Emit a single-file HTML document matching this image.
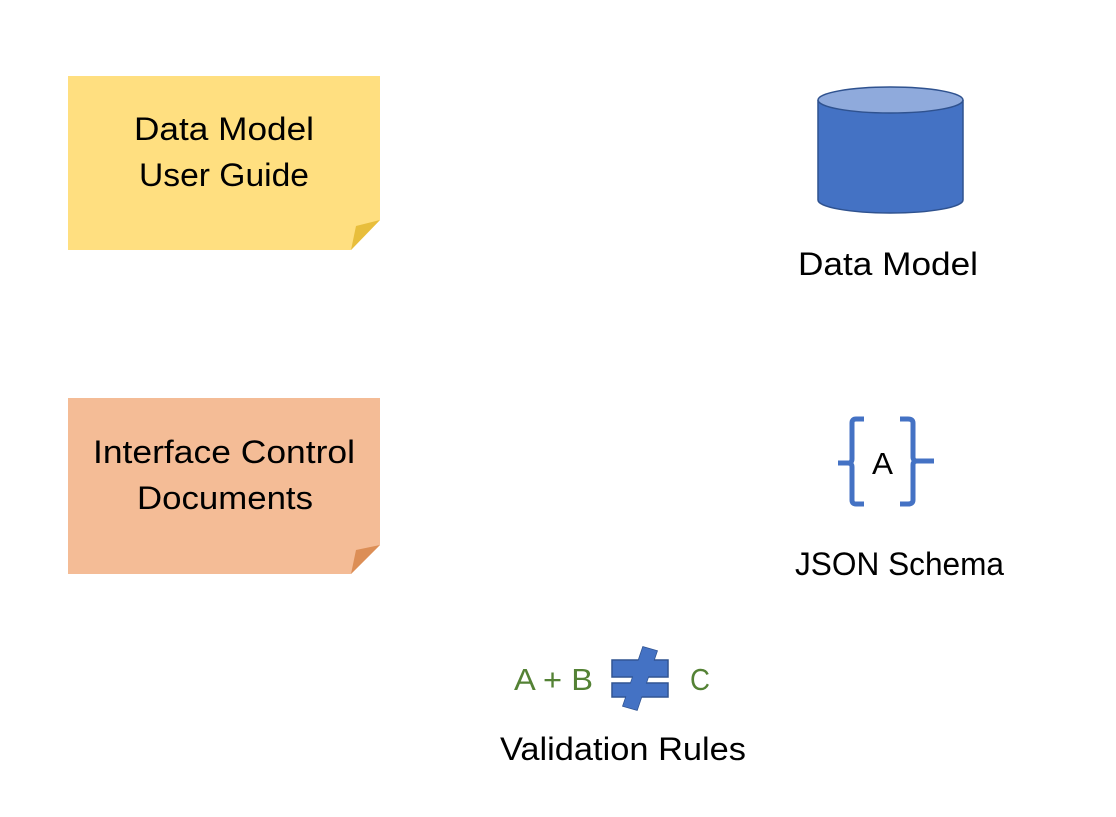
<!DOCTYPE html>
<html><head><meta charset="utf-8"><style>
body{margin:0;background:#fff;width:1116px;height:812px;overflow:hidden;font-family:"Liberation Sans",sans-serif}
</style></head><body>
<svg width="1116" height="812" viewBox="0 0 1116 812" xmlns="http://www.w3.org/2000/svg" font-family="Liberation Sans, sans-serif">
<polygon points="68,76 380,76 380,220 351,250 68,250" fill="#FFDF80"/>
<polygon points="351,250 356,226 380,220" fill="#E8BE3C"/>
<text x="134" y="140" font-size="32" textLength="180" lengthAdjust="spacingAndGlyphs">Data Model</text>
<text x="139" y="186" font-size="32" textLength="170" lengthAdjust="spacingAndGlyphs">User Guide</text>
<polygon points="68,398 380,398 380,545 351,574 68,574" fill="#F4BC96"/>
<polygon points="351,574 356,550 380,545" fill="#DC8E56"/>
<text x="93" y="463" font-size="32" textLength="262" lengthAdjust="spacingAndGlyphs">Interface Control</text>
<text x="137" y="509" font-size="32" textLength="176" lengthAdjust="spacingAndGlyphs">Documents</text>
<path d="M818,100 L818,200 A72.5,13 0 0 0 963,200 L963,100" fill="#4472C4" stroke="#2F528F" stroke-width="1.5"/>
<ellipse cx="890.5" cy="100" rx="72.5" ry="13" fill="#8FAADC" stroke="#2F528F" stroke-width="1.5"/>
<text x="798" y="275" font-size="32" textLength="180" lengthAdjust="spacingAndGlyphs">Data Model</text>
<g fill="none" stroke="#4472C4" stroke-width="5">
<path d="M864,419 H856 Q852,419 852,423 V459 Q852,463 848,463 H838 M848,463 Q852,463 852,467 V500 Q852,504 856,504 H864"/>
<path d="M900,419 H908 Q913,419 913,423 V457 Q913,461 917,461 H934 M917,461 Q913,461 913,465 V500 Q913,504 908,504 H900"/>
</g>
<text x="872" y="474" font-size="31" textLength="21" lengthAdjust="spacingAndGlyphs">A</text>
<text x="795" y="575" font-size="32" textLength="209" lengthAdjust="spacingAndGlyphs">JSON Schema</text>
<text x="514" y="690" font-size="31" fill="#548235" textLength="79" lengthAdjust="spacingAndGlyphs">A + B</text>
<text x="690" y="690" font-size="31" fill="#548235" textLength="20" lengthAdjust="spacingAndGlyphs">C</text>
<g fill="#4472C4" stroke="#2F528F" stroke-width="1.5">
<polygon points="643,647 657,651 637,710 623,706"/>
<rect x="612" y="660" width="56" height="17"/>
<rect x="612" y="683" width="56" height="14"/>
</g>
<g fill="#4472C4">
<polygon points="643,647 657,651 637,710 623,706"/>
<rect x="612.8" y="660.8" width="54.4" height="15.4"/>
<rect x="612.8" y="683.8" width="54.4" height="12.4"/>
</g>
<text x="500" y="760" font-size="32" textLength="246" lengthAdjust="spacingAndGlyphs">Validation Rules</text>
</svg>
</body></html>
